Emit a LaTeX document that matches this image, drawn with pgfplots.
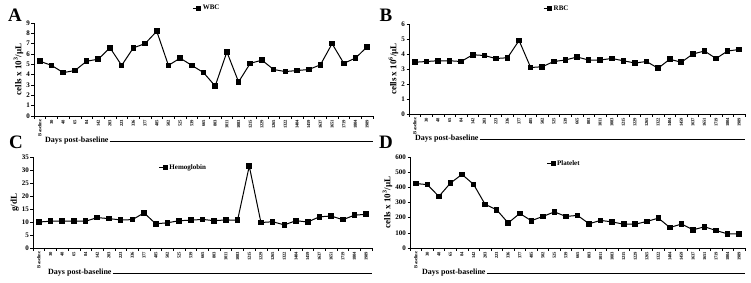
\documentclass[border=0pt]{standalone}
\usepackage{pgfplots}
\pgfplotsset{compat=1.18}
\usepackage{pgfplotstable}
\usepackage{fontspec}
\setmainfont{Liberation Serif}

% Blood counts per visit: WBC (10^3/uL), RBC (10^6/uL), hemoglobin (g/dL), platelets (10^3/uL)
\pgfplotstableread{
idx wbc  rbc  hgb  plt
0   5.3  3.45 10.0 425
1   4.9  3.50 10.3 418
2   4.2  3.55 10.3 340
3   4.4  3.55 10.3 428
4   5.3  3.50 10.3 485
5   5.5  3.95 11.7 420
6   6.6  3.90 11.3 288
7   4.9  3.70 10.8 252
8   6.6  3.75 10.9 165
9   7.0  4.90 13.5 228
10  8.2  3.10 9.3  180
11  4.9  3.15 9.7  208
12  5.6  3.50 10.5 238
13  4.9  3.60 10.7 208
14  4.2  3.80 11.0 215
15  2.9  3.60 10.5 160
16  6.2  3.60 10.8 182
17  3.3  3.70 10.7 172
18  5.1  3.55 31.5 157
19  5.4  3.40 9.8  157
20  4.5  3.50 10.1 175
21  4.3  3.05 8.9  197
22  4.4  3.65 10.5 135
23  4.5  3.45 10.0 158
24  4.95 4.00 12.0 120
25  7.0  4.20 12.3 140
26  5.1  3.70 10.9 115
27  5.6  4.20 12.6 93
28  6.7  4.30 13.0 93
}\counts

\pgfplotsset{
  series/.style={black, line width=1pt, mark=square*, mark size=2.3pt, mark options={solid, fill=black}},
  panel/.style={
    scale only axis,
    axis lines=left,
    axis line style={-, line width=0.6pt},
    xmin=-0.5, xmax=28.5, ymin=0,
    xtick={0,...,28},
    xticklabels={Baseline,30,48,65,84,142,203,223,336,377,485,502,525,539,665,803,1011,1083,1215,1229,1265,1322,1404,1459,1637,1651,1719,1804,1989},
    major x tick style={draw=none},
    minor xtick={-0.5,0.5,...,28.5},
    minor tick length=2.5pt,
    major tick length=2.5pt,
    tick align=outside,
    tick style={black, line width=0.5pt},
    xticklabel style={rotate=90, anchor=east, inner sep=1pt, font=\fontsize{4.6}{5}\selectfont\bfseries},
    yticklabel style={font=\fontsize{7}{8}\selectfont\bfseries, inner sep=1.5pt, /pgf/number format/assume math mode=true},
    ylabel style={font=\fontsize{9}{10}\selectfont\bfseries, yshift=-2pt},
    legend style={draw=none, fill=none, font=\fontsize{7}{8}\selectfont\bfseries, inner sep=0pt,
      /tikz/every even column/.append style={column sep=0pt}},
    legend cell align=left,
    legend image code/.code={\draw[mark size=2pt, mark repeat=2, mark phase=2] plot coordinates {(0pt,0pt) (6pt,0pt)};},
    clip=false,
  },
}

\begin{document}
\begin{tikzpicture}
\path[use as bounding box] (0,0) rectangle (751pt,282pt);

% A: white blood cells
\begin{axis}[panel, at={(34pt,166pt)}, anchor=south west, width=339pt, height=93pt,
  ymax=9, ytick={0,1,...,9}, ylabel={cells x 10\textsuperscript{3}/µL},
  legend style={at={(0.51,1.16)}, anchor=center}]
\addplot[series] table[x=idx, y=wbc] {\counts};
\addlegendentry{WBC}
\end{axis}

% B: red blood cells
\begin{axis}[panel, at={(409pt,168pt)}, anchor=south west, width=336pt, height=90pt,
  ymax=6, ytick={0,1,...,6}, ylabel={cells x 10\textsuperscript{6}/µL},
  legend style={at={(0.44,1.167)}, anchor=center}]
\addplot[series] table[x=idx, y=rbc] {\counts};
\addlegendentry{RBC}
\end{axis}

% C: hemoglobin
\begin{axis}[panel, at={(33pt,34pt)}, anchor=south west, width=339pt, height=91pt,
  ymax=35, ytick={0,5,...,35}, ylabel={g/dL},
  legend style={at={(0.444,0.88)}, anchor=center}]
\addplot[series] table[x=idx, y=hgb] {\counts};
\addlegendentry{Hemoglobin}
\end{axis}

% D: platelets
\begin{axis}[panel, at={(410pt,34pt)}, anchor=south west, width=335pt, height=91pt,
  ymax=600, ytick={0,100,...,600}, ylabel={cells x 10\textsuperscript{3}/µL},
  legend style={at={(0.46,0.93)}, anchor=center}]
\addplot[series] table[x=idx, y=plt] {\counts};
\addlegendentry{Platelet}
\end{axis}

% Shared x-axis captions with a rule running to the right
\begin{scope}[every node/.style={font=\fontsize{8}{9}\selectfont\bfseries, inner sep=0pt, anchor=west}]
  \node (da) at (45pt,141pt) {Days post-baseline};
  \draw[line width=0.7pt] (da.east) ++(1pt,0) -- (373pt,141pt);
  \node (db) at (415pt,143pt) {Days post-baseline};
  \draw[line width=0.7pt] (db.east) ++(1pt,0) -- (745pt,143pt);
  \node (dc) at (48pt,9pt) {Days post-baseline};
  \draw[line width=0.7pt] (dc.east) ++(1pt,0) -- (372pt,9pt);
  \node (dd) at (422pt,9pt) {Days post-baseline};
  \draw[line width=0.7pt] (dd.east) ++(1pt,0) -- (745pt,9pt);
\end{scope}

% Panel letters
\begin{scope}[every node/.style={font=\fontsize{19}{20}\selectfont\bfseries, inner sep=0pt}]
  \node at (15pt,267pt) {A};
  \node at (386pt,267pt) {B};
  \node at (16pt,140pt) {C};
  \node at (386pt,140pt) {D};
\end{scope}
\end{tikzpicture}
\end{document}
